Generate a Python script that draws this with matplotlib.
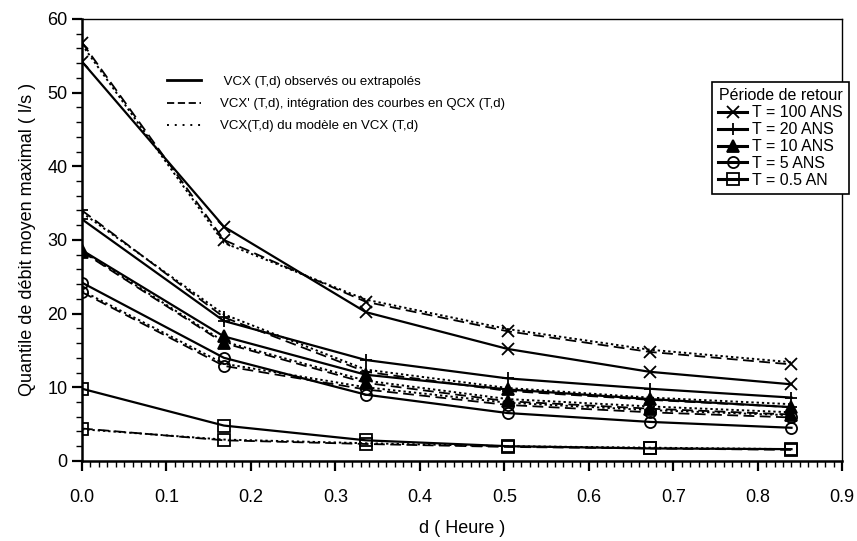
"""Quantile de débit moyen maximal VCX(T,d) en fonction de la durée d."""

import matplotlib

matplotlib.use("Agg")
import matplotlib.pyplot as plt
from matplotlib.lines import Line2D
from matplotlib.ticker import FormatStrFormatter, MultipleLocator

plt.rcParams["font.family"] = ["Liberation Sans", "DejaVu Sans"]

# durations (hours)
d_hours = [0.0, 0.168, 0.336, 0.504, 0.672, 0.84]

periods = ["T = 100 ANS", "T = 20 ANS", "T = 10 ANS", "T = 5 ANS", "T = 0.5 AN"]
markers = ["x", "+", "^", "o", "s"]
filled = [True, True, True, False, False]

# VCX (T,d) observed or extrapolated (solid)
vcx_obs = [
    [54.2, 31.8, 20.2, 15.2, 12.1, 10.4],
    [32.8, 19.0, 13.7, 11.2, 9.8, 8.6],
    [28.6, 16.9, 11.7, 9.7, 8.4, 7.3],
    [24.2, 14.0, 9.0, 6.5, 5.3, 4.5],
    [9.8, 4.8, 2.8, 2.0, 1.7, 1.6],
]
# VCX' (T,d) from integration of QCX curves (dashed)
vcx_int = [
    [56.8, 30.0, 21.6, 17.6, 14.8, 13.1],
    [34.0, 19.5, 12.1, 9.5, 8.3, 7.3],
    [28.4, 16.0, 10.6, 8.1, 7.1, 6.3],
    [22.9, 12.9, 9.7, 7.6, 6.6, 5.9],
    [4.4, 2.8, 2.3, 1.9, 1.7, 1.5],
]
# VCX (T,d) from the VCX model (dotted)
vcx_mod = [
    [56.5, 29.6, 21.9, 17.9, 15.1, 13.4],
    [33.7, 19.9, 12.4, 9.9, 8.6, 7.7],
    [28.5, 16.2, 10.9, 8.4, 7.4, 6.6],
    [23.1, 13.2, 10.0, 7.9, 6.9, 6.2],
    [4.3, 2.9, 2.4, 2.0, 1.8, 1.6],
]

style_labels = [
    " VCX (T,d) observés ou extrapolés",
    "VCX' (T,d), intégration des courbes en QCX (T,d)",
    "VCX(T,d) du modèle en VCX (T,d)",
]


def _mstyle(i):
    face = "black" if filled[i] else "none"
    return dict(marker=markers[i], markersize=8, markerfacecolor=face,
                markeredgecolor="black", markeredgewidth=1.3)


fig = plt.figure(figsize=(8.57, 5.41), dpi=100)
ax = fig.add_axes([0.0957, 0.148, 0.887, 0.817])

for i in range(len(periods)):
    ax.plot(d_hours, vcx_obs[i], color="black", ls="-", lw=1.6, **_mstyle(i))
    ax.plot(d_hours, vcx_int[i], color="black", ls=(0, (6, 3)), lw=1.3, **_mstyle(i))
    ax.plot(d_hours, vcx_mod[i], color="black", ls=(0, (1.2, 1.5)), lw=1.4)

ax.set_xlim(0, 0.9)
ax.set_ylim(0, 60)
ax.xaxis.set_major_locator(MultipleLocator(0.1))
ax.xaxis.set_minor_locator(MultipleLocator(0.01))
ax.yaxis.set_major_locator(MultipleLocator(10))
ax.yaxis.set_minor_locator(MultipleLocator(2))
ax.xaxis.set_major_formatter(FormatStrFormatter("%.1f"))
ax.tick_params(which="major", direction="out", length=7, width=1.6, labelsize=13)
ax.tick_params(which="minor", direction="out", length=4, width=1.0)
ax.tick_params(axis="x", pad=13)
for side in ("left", "bottom"):
    ax.spines[side].set_linewidth(1.8)
for side in ("top", "right"):
    ax.spines[side].set_linewidth(1.0)

ax.set_xlabel("d ( Heure )", fontsize=13, labelpad=10)
ax.set_ylabel("Quantile de débit moyen maximal ( l/s )", fontsize=13, labelpad=8)

style_handles = [
    Line2D([], [], color="black", ls="-", lw=2.0),
    Line2D([], [], color="black", ls=(0, (4, 2)), lw=1.3),
    Line2D([], [], color="black", ls=(0, (1, 3)), lw=1.4),
]
leg1 = fig.legend(style_handles, style_labels, loc="upper left",
                  bbox_to_anchor=(155 / 857, 1 - 64 / 541), frameon=False,
                  fontsize=9.5, handlelength=2.6, handletextpad=1.4,
                  labelspacing=0.75)

period_handles = [
    Line2D([], [], color="black", lw=2.2, **_mstyle(i)) for i in range(len(periods))
]
leg2 = fig.legend(period_handles, periods, loc="upper left",
                  bbox_to_anchor=(704 / 857, 1 - 74 / 541), title="Période de retour",
                  fontsize=11.5, title_fontsize=11.5, handlelength=1.8,
                  handletextpad=0.3, labelspacing=0.12, borderpad=0.4,
                  fancybox=False, edgecolor="black", framealpha=1)
leg2.get_frame().set_linewidth(1.2)

fig.savefig("out.png", dpi=100)
plt.close(fig)
